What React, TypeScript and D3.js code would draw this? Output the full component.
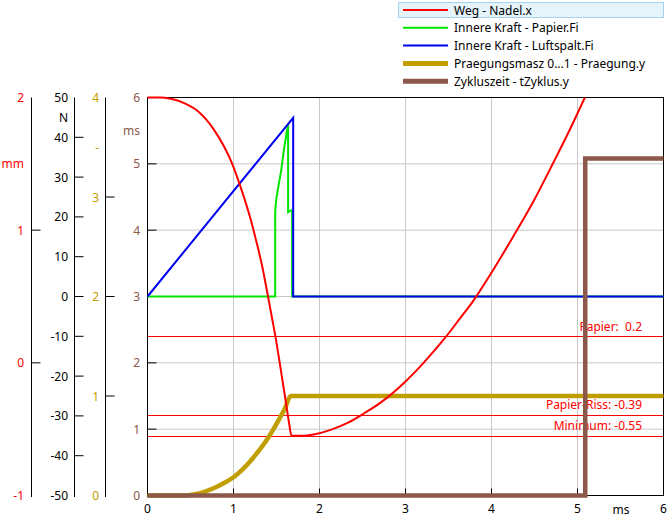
import React from 'react';
import * as d3 from 'd3';

// ---- data ----
const wegT = [0, 0.15, 0.27, 0.42, 0.58, 0.77, 0.985, 1.08, 1.2, 1.256, 1.333, 1.39, 1.45, 1.49, 1.547, 1.605, 1.643, 1.675, 1.8, 1.93, 2.13, 2.32, 2.52, 2.71, 3.0, 3.21, 3.45, 3.64, 3.78, 3.99, 4.26, 4.49, 4.72, 4.92, 5.085];
const wegMm = [2.0, 2.0, 1.99, 1.96, 1.9, 1.76, 1.5, 1.33, 1.08, 0.94, 0.73, 0.54, 0.33, 0.19, -0.04, -0.28, -0.44, -0.55, -0.55, -0.54, -0.505, -0.455, -0.38, -0.3, -0.14, 0.0, 0.18, 0.34, 0.46, 0.67, 0.96, 1.22, 1.51, 1.77, 2.0];

const papierT = [0, 1.485, 1.485, 1.5, 1.527, 1.555, 1.585, 1.616, 1.635, 1.635, 1.665, 1.682, 1.682, 6];
const papierN = [0, 0, 21.6, 24.9, 28.3, 31.7, 36.7, 40.9, 43.0, 21.2, 21.6, 21.6, 0, 0];

const luftT = [0, 1.694, 1.694, 6];
const luftN = [0, 44.9, 0, 0];

const praegT = [0, 0.4, 0.5, 0.6, 0.7, 0.8, 0.9, 1.0, 1.1, 1.2, 1.3, 1.4, 1.5, 1.6, 1.665, 6];
const praegV = [0, 0, 0.006, 0.022, 0.05, 0.085, 0.13, 0.184, 0.258, 0.35, 0.455, 0.575, 0.72, 0.88, 1.0, 1.0];

const zyklusT = [0, 5.09, 5.09, 6];
const zyklusMs = [0, 0, 5.08, 5.08];

const refLabels = ['Papier:  0.2', 'Papier-Riss: -0.39', 'Minimum: -0.55'];
const refValues = [0.2, -0.39, -0.55];

const legendLabels = [
  'Weg - Nadel.x',
  'Innere Kraft - Papier.Fi',
  'Innere Kraft - Luftspalt.Fi',
  'Praegungsmasz 0...1 - Praegung.y',
  'Zykluszeit - tZyklus.y',
];

const C = {
  red: '#ff0000',
  green: '#00e600',
  blue: '#0000f0',
  gold: '#c09e00',
  brown: '#8b5849',
  grid: '#c8c8c8',
};
const legendColors = [C.red, C.green, C.blue, C.gold, C.brown];
const legendWidths = [2, 2, 2, 5, 5];

const FONT = "'Noto Sans', sans-serif";

export default function App() {
  const L = 147.5, R = 663.5, T = 97.5, B = 495.5;
  const x = d3.scaleLinear().domain([0, 6]).range([L, R]);
  const yMs = d3.scaleLinear().domain([0, 6]).range([B, T]);
  const yMm = d3.scaleLinear().domain([-1, 2]).range([B, T]);
  const yN = d3.scaleLinear().domain([-50, 50]).range([B, T]);
  const yP = d3.scaleLinear().domain([0, 4]).range([B, T]);

  const lineOf = (ts: number[], vs: number[], y: d3.ScaleLinear<number, number>, curve: any) =>
    d3.line<number>().x((_, i) => x(ts[i])).y((v) => y(v)).curve(curve)(vs) || '';

  const xTicks = x.ticks(6);
  const msTicks = yMs.ticks(6);

  const axes = [
    { scale: yMm, lineX: 31.5, labelRight: 24, color: '#ff0000', ticks: [-1, 0, 1, 2], unit: 'mm', unitVal: 1.5 },
    { scale: yN, lineX: 74.5, labelRight: 68, color: '#000000', ticks: d3.range(-50, 51, 10), unit: 'N', unitVal: 45 },
    { scale: yP, lineX: 105.5, labelRight: 99, color: C.gold, ticks: [0, 1, 2, 3, 4], unit: '-', unitVal: 3.5 },
    { scale: yMs, lineX: 147.5, labelRight: 140, color: C.brown, ticks: msTicks, unit: 'ms', unitVal: 5.5 },
  ];

  return (
    <svg width={672} height={517} style={{ position: 'absolute', left: 0, top: 0, background: '#fff' }} fontFamily={FONT} fontSize={12}>
      {/* grid */}
      {xTicks.filter((t) => t > 0 && t < 6).map((t) => (
        <line key={'gx' + t} x1={x(t)} x2={x(t)} y1={T} y2={B} stroke={C.grid} />
      ))}
      {msTicks.filter((t) => t > 0 && t < 6).map((t) => (
        <line key={'gy' + t} x1={L} x2={R} y1={yMs(t)} y2={yMs(t)} stroke={C.grid} />
      ))}

      {/* reference lines */}
      {refValues.map((v, i) => (
        <g key={'ref' + i}>
          <line x1={L} x2={R} y1={Math.round(yMm(v)) + 0.5} y2={Math.round(yMm(v)) + 0.5} stroke={C.red} />
          <text x={642} y={yMm(v) - 10} textAnchor="end" dominantBaseline="central" fill={C.red} style={{ whiteSpace: 'pre' }}>
            {refLabels[i]}
          </text>
        </g>
      ))}

      {/* border */}
      <rect x={L} y={T} width={R - L} height={B - T} fill="none" stroke="#000" />

      {/* x axis ticks + labels */}
      {xTicks.map((t) => (
        <g key={'xt' + t}>
          {t > 0 && t < 6 && <line x1={x(t)} x2={x(t)} y1={B} y2={B - 7} stroke="#000" />}
          <text x={x(t)} y={508} textAnchor="middle" dominantBaseline="central" fill="#000">{t}</text>
        </g>
      ))}
      <text x={621} y={509} textAnchor="middle" dominantBaseline="central" fill="#000">ms</text>

      {/* y axes */}
      {axes.map((a, ai) => (
        <g key={'ax' + ai}>
          <line x1={a.lineX} x2={a.lineX} y1={T} y2={B + 1.5} stroke="#000" />
          {a.ticks.map((t) => {
            const yy = a.scale(t);
            const inner = Math.abs(yy - T) > 1 && Math.abs(yy - B) > 1;
            return (
              <g key={'t' + t}>
                {inner && <line x1={a.lineX} x2={a.lineX + 9} y1={yy} y2={yy} stroke="#000" />}
                <text x={a.labelRight} y={yy} textAnchor="end" dominantBaseline="central" fill={a.color}>{t}</text>
              </g>
            );
          })}
          <text x={a.labelRight} y={a.scale(a.unitVal)} textAnchor="end" dominantBaseline="central" fill={a.color}>{a.unit}</text>
        </g>
      ))}

      {/* series */}
      <path d={lineOf(praegT, praegV, yP, d3.curveMonotoneX)} fill="none" stroke={C.gold} strokeWidth={4.5} />
      <path d={lineOf(papierT, papierN, yN, d3.curveLinear)} fill="none" stroke={C.green} strokeWidth={2} />
      <path d={lineOf(luftT, luftN, yN, d3.curveLinear)} fill="none" stroke={C.blue} strokeWidth={2} />
      <path d={lineOf(wegT, wegMm, yMm, d3.curveMonotoneX)} fill="none" stroke={C.red} strokeWidth={2} />
      <path d={lineOf(zyklusT, zyklusMs, yMs, d3.curveLinear)} fill="none" stroke={C.brown} strokeWidth={4.5} />

      {/* legend */}
      <rect x={398.5} y={2.5} width={265} height={15} fill="#e5f3fb" stroke="#a5d2ec" />
      {legendLabels.map((lab, i) => {
        const yy = 10 + i * 17.8;
        return (
          <g key={'lg' + i}>
            <line x1={403} x2={448} y1={yy} y2={yy} stroke={legendColors[i]} strokeWidth={legendWidths[i]} />
            <text x={454} y={yy} dominantBaseline="central" fill="#000">{lab}</text>
          </g>
        );
      })}
    </svg>
  );
}
